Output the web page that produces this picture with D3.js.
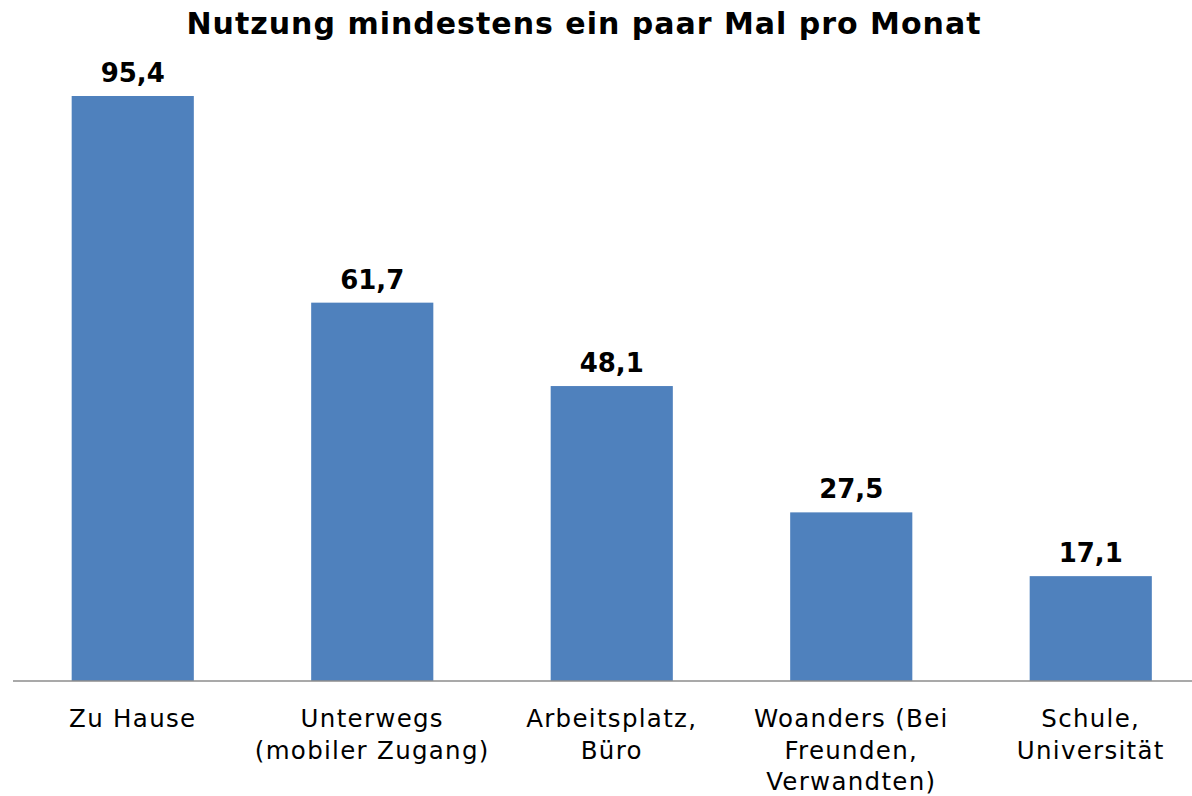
<!DOCTYPE html>
<html>
<head>
<meta charset="utf-8">
<script src="https://cdn.jsdelivr.net/npm/d3@7"></script>
<style>
  body { margin: 0; background: #fff; }
  text { font-family: "DejaVu Sans", Verdana, sans-serif; }
</style>
</head>
<body>
<svg id="chart" width="1192" height="796"></svg>
<script>
// Chart data
var categories = [
  ['Zu Hause'],
  ['Unterwegs', '(mobiler Zugang)'],
  ['Arbeitsplatz,', 'Büro'],
  ['Woanders (Bei', 'Freunden,', 'Verwandten)'],
  ['Schule,', 'Universität']
];
var values = [95.4, 61.7, 48.1, 27.5, 17.1];
var title = 'Nutzung mindestens ein paar Mal pro Monat';

var svg = d3.select('#chart');
var baseY = 681;

/*
 * Scales
 */
var x = d3.scaleBand()
  .domain(d3.range(values.length))
  .range([13, 1210.5])
  .paddingInner(0.49)
  .paddingOuter(0.245);

var y = d3.scaleLinear()
  .domain([0, 100])
  .range([baseY, 67.8]);

// Title
svg.append('text')
  .attr('x', 584)
  .attr('y', 34)
  .attr('text-anchor', 'middle')
  .attr('font-size', 30)
  .attr('font-weight', 'bold')
  .attr('letter-spacing', 1)
  .attr('fill', '#000')
  .text(title);

// Bars
svg.selectAll('.bar')
  .data(values)
  .enter().append('rect')
  .attr('class', 'bar')
  .attr('x', function(d, i) { return x(i); })
  .attr('y', function(d) { return y(d); })
  .attr('width', x.bandwidth())
  .attr('height', function(d) { return baseY - y(d); })
  .attr('fill', '#4F81BD');

// Value labels
svg.selectAll('.value')
  .data(values)
  .enter().append('text')
  .attr('class', 'value')
  .attr('x', function(d, i) { return x(i) + x.bandwidth() / 2; })
  .attr('y', function(d) { return y(d) - 14; })
  .attr('text-anchor', 'middle')
  .attr('font-size', 26)
  .attr('font-weight', 'bold')
  .attr('fill', '#000')
  .text(function(d) { return d.toFixed(1).replace('.', ','); });

// x axis baseline
svg.append('line')
  .attr('x1', 13)
  .attr('x2', 1192)
  .attr('y1', baseY)
  .attr('y2', baseY)
  .attr('stroke', '#8c8c8c')
  .attr('stroke-width', 1.5);

// Category labels
var labels = svg.selectAll('.cat')
  .data(categories)
  .enter().append('text')
  .attr('class', 'cat')
  .attr('text-anchor', 'middle')
  .attr('font-size', 24.5)
  .attr('letter-spacing', 1.3)
  .attr('fill', '#000');

labels.selectAll('tspan')
  .data(function(d, i) { return d.map(function(t) { return {t: t, i: i}; }); })
  .enter().append('tspan')
  .attr('x', function(d) { return x(d.i) + x.bandwidth() / 2; })
  .attr('y', function(d, j) { return 727 + j * 31.5; })
  .text(function(d) { return d.t; });
</script>
</body>
</html>
